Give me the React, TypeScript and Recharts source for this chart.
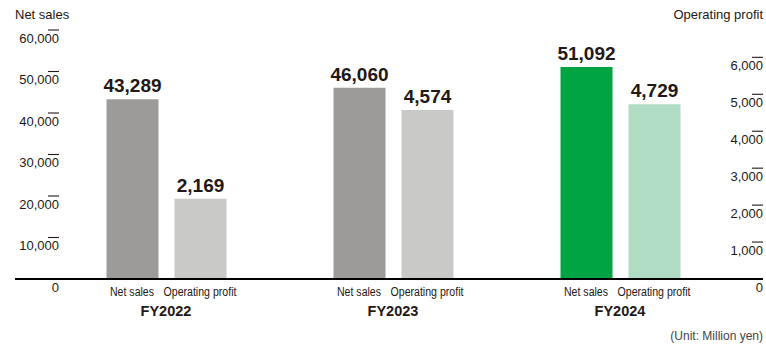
import React from 'react';
import { BarChart, Bar, XAxis, YAxis, Cell, LabelList } from 'recharts';

const years = ['FY2022', 'FY2023', 'FY2024'];
const netSales = [43289, 46060, 51092];
const operatingProfit = [2169, 4574, 4729];
const salesTicks = [0, 10000, 20000, 30000, 40000, 50000, 60000];
const profitTicks = [0, 1000, 2000, 3000, 4000, 5000, 6000];
const salesColors = ['#9c9b99', '#9c9b99', '#00a443'];
const profitColors = ['#c9c9c7', '#c9c9c7', '#b0dcc4'];

const FONT = '"Liberation Sans", Arial, Helvetica, sans-serif';
const TEXT = '#231815';

const data = years.map((year, i) => ({
  year,
  netSales: netSales[i],
  operatingProfit: operatingProfit[i],
}));

const fmt = (v: number) => Number(v).toLocaleString('en-US');

// value labels sit under a short tick line, like the printed report
function renderAxisTick(right: boolean) {
  return (props: any) => {
    const { y, payload } = props;
    const v = payload.value;
    const edge = right ? 763 : 59;
    if (v === 0) {
      return (
        <text x={edge} y={y} dy={12.5} textAnchor="end" fontSize={13} fill={TEXT} fontFamily={FONT}>
          0
        </text>
      );
    }
    return (
      <g>
        <line x1={edge - 11} x2={edge} y1={y} y2={y} stroke={TEXT} strokeWidth={1.1} />
        <text x={edge} y={y} dy={12.5} textAnchor="end" fontSize={13} fill={TEXT} fontFamily={FONT}>
          {fmt(v)}
        </text>
      </g>
    );
  };
}

function CategoryTick({ x, y, payload }: any) {
  return (
    <g fontFamily={FONT} fill={TEXT}>
      <text x={x - 34} y={y} dy={17} textAnchor="middle" fontSize={12.5} textLength={44} lengthAdjust="spacingAndGlyphs">
        Net sales
      </text>
      <text x={x + 34} y={y} dy={17} textAnchor="middle" fontSize={12.5} textLength={73} lengthAdjust="spacingAndGlyphs">
        Operating profit
      </text>
      <text x={x} y={y} dy={37} textAnchor="middle" fontSize={14.5} fontWeight={700}>
        {payload.value}
      </text>
    </g>
  );
}

export default function App() {
  return (
    <div style={{ position: 'absolute', left: 0, top: 0, width: 766, height: 346, background: '#fff', fontFamily: FONT, color: TEXT }}>
      <div style={{ position: 'absolute', left: 15, top: 7, fontSize: 13 }}>Net sales</div>
      <div style={{ position: 'absolute', right: 3, top: 7, fontSize: 13 }}>Operating profit</div>
      <div style={{ position: 'absolute', right: 3, top: 329, fontSize: 12, color: '#444' }}>(Unit: Million yen)</div>
      <BarChart
        width={766}
        height={346}
        data={data}
        margin={{ top: 30, right: 2, bottom: 27, left: 14 }}
        barSize={52}
        barGap={16}
      >
        <XAxis
          dataKey="year"
          height={40}
          padding={{ left: 37.5, right: 29.5 }}
          axisLine={{ stroke: '#000', strokeWidth: 2 }}
          tickLine={false}
          tickSize={0}
          tickMargin={0}
          tick={CategoryTick}
          interval={0}
        />
        <YAxis
          yAxisId="left"
          width={1}
          domain={[0, 60000]}
          ticks={salesTicks}
          axisLine={false}
          tickLine={false}
          tick={renderAxisTick(false)}
          interval={0}
        />
        <YAxis
          yAxisId="right"
          orientation="right"
          width={1}
          domain={[0, 6740]}
          ticks={profitTicks}
          axisLine={false}
          tickLine={false}
          tick={renderAxisTick(true)}
          interval={0}
        />
        <Bar yAxisId="left" dataKey="netSales" isAnimationActive={false}>
          {data.map((d, i) => (
            <Cell key={d.year} fill={salesColors[i]} />
          ))}
          <LabelList dataKey="netSales" position="top" offset={7} formatter={fmt} fill={TEXT} fontSize={19} fontWeight={700} fontFamily={FONT} />
        </Bar>
        <Bar yAxisId="right" dataKey="operatingProfit" isAnimationActive={false}>
          {data.map((d, i) => (
            <Cell key={d.year} fill={profitColors[i]} />
          ))}
          <LabelList dataKey="operatingProfit" position="top" offset={7} formatter={fmt} fill={TEXT} fontSize={19} fontWeight={700} fontFamily={FONT} />
        </Bar>
      </BarChart>
    </div>
  );
}
